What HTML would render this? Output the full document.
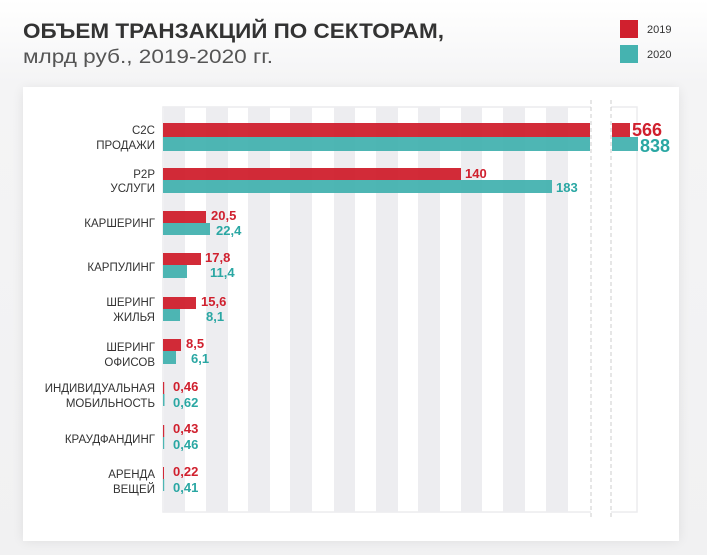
<!DOCTYPE html>
<html><head><meta charset="utf-8"><style>
body{margin:0;width:707px;height:555px;background:#f3f3f4;overflow:hidden;font-family:"Liberation Sans",sans-serif}
svg{position:absolute;left:0;top:0}
</style></head><body>
<svg width="707" height="555" viewBox="0 0 707 555">
<defs><linearGradient id="bg" x1="0" y1="0" x2="0" y2="1"><stop offset="0" stop-color="#ffffff"/><stop offset="0.15" stop-color="#f4f4f5"/><stop offset="1" stop-color="#f1f1f2"/></linearGradient>
<filter id="sh" x="-10%" y="-10%" width="120%" height="120%"><feGaussianBlur stdDeviation="6"/></filter></defs>
<rect width="707" height="555" fill="url(#bg)"/>
<rect x="23" y="89" width="656" height="452" fill="#000" opacity="0.08" filter="url(#sh)"/>
<rect x="23" y="87" width="656" height="454" fill="#fff"/>
<g font-family="Liberation Sans, sans-serif">
<text x="23" y="38" font-size="21" font-weight="bold" fill="#333" textLength="421" lengthAdjust="spacingAndGlyphs">ОБЪЕМ ТРАНЗАКЦИЙ ПО СЕКТОРАМ,</text>
<text x="23" y="63" font-size="19" fill="#555" textLength="250" lengthAdjust="spacingAndGlyphs">млрд руб., 2019-2020 гг.</text>
<rect x="620" y="20" width="18" height="18" fill="#d0202e"/>
<rect x="620" y="45" width="18" height="18" fill="#45b3b0"/>
<text x="647" y="33" font-size="11" fill="#333">2019</text>
<text x="647" y="58" font-size="11" fill="#333">2020</text>
</g>
<rect x="163" y="107" width="474" height="405" fill="#fff" stroke="#ececee" stroke-width="1.5"/>
<g fill="#ededf0">
<rect x="164" y="107" width="21" height="405"/><rect x="206" y="107" width="22" height="405"/><rect x="248" y="107" width="22" height="405"/><rect x="290" y="107" width="22" height="405"/><rect x="334" y="107" width="21" height="405"/><rect x="376" y="107" width="22" height="405"/><rect x="418" y="107" width="22" height="405"/><rect x="461" y="107" width="21" height="405"/><rect x="503" y="107" width="22" height="405"/><rect x="546" y="107" width="22" height="405"/>
</g>
<rect x="591" y="100" width="20" height="420" fill="#fff"/>
<line x1="591" y1="100" x2="591" y2="520" stroke="#ccc" stroke-dasharray="4,3"/>
<line x1="611" y1="100" x2="611" y2="520" stroke="#ccc" stroke-dasharray="4,3"/>
<g fill="#d0202e" opacity="0.95">
<rect x="163" y="123" width="427" height="14"/><rect x="612" y="123" width="18" height="14"/>
<rect x="163" y="168" width="298" height="12"/>
<rect x="163" y="211" width="43" height="12"/>
<rect x="163" y="253" width="38" height="12"/>
<rect x="163" y="297" width="33" height="12"/>
<rect x="163" y="339" width="18" height="12"/>
<rect x="163" y="382" width="1.2" height="12"/>
<rect x="163" y="425" width="1.2" height="12"/>
<rect x="163" y="467" width="1" height="12"/>
</g>
<g fill="#45b3b0" opacity="0.95">
<rect x="163" y="137" width="427" height="14"/><rect x="612" y="137" width="26" height="14"/>
<rect x="163" y="180" width="389" height="13"/>
<rect x="163" y="223" width="47" height="12"/>
<rect x="163" y="265" width="24" height="13"/>
<rect x="163" y="309" width="17" height="12"/>
<rect x="163" y="351" width="13" height="13"/>
<rect x="163" y="394" width="1.5" height="12"/>
<rect x="163" y="437" width="1.2" height="12"/>
<rect x="163" y="479" width="1.2" height="12"/>
</g>
<g font-size="11.5" fill="#333" text-anchor="end">
<text x="155" y="134">C2C</text><text x="155" y="149">ПРОДАЖИ</text>
<text x="155" y="178">P2P</text><text x="155" y="192">УСЛУГИ</text>
<text x="155" y="227">КАРШЕРИНГ</text>
<text x="155" y="271">КАРПУЛИНГ</text>
<text x="155" y="306">ШЕРИНГ</text><text x="155" y="321">ЖИЛЬЯ</text>
<text x="155" y="351">ШЕРИНГ</text><text x="155" y="366">ОФИСОВ</text>
<text x="155" y="392">ИНДИВИДУАЛЬНАЯ</text><text x="155" y="407">МОБИЛЬНОСТЬ</text>
<text x="155" y="443">КРАУДФАНДИНГ</text>
<text x="155" y="478">АРЕНДА</text><text x="155" y="493">ВЕЩЕЙ</text>
</g>
<g font-size="13" font-weight="bold">
<text x="632" y="136" font-size="18" fill="#d0202e">566</text>
<text x="640" y="152" font-size="18" fill="#2aa7a3">838</text>
<text x="465" y="178" fill="#d0202e">140</text>
<text x="556" y="192" fill="#2aa7a3">183</text>
<text x="211" y="220" fill="#d0202e">20,5</text>
<text x="216" y="235" fill="#2aa7a3">22,4</text>
<text x="205" y="262" fill="#d0202e">17,8</text>
<text x="210" y="277" fill="#2aa7a3">11,4</text>
<text x="201" y="306" fill="#d0202e">15,6</text>
<text x="206" y="321" fill="#2aa7a3">8,1</text>
<text x="186" y="348" fill="#d0202e">8,5</text>
<text x="191" y="363" fill="#2aa7a3">6,1</text>
<text x="173" y="391" fill="#d0202e">0,46</text>
<text x="173" y="407" fill="#2aa7a3">0,62</text>
<text x="173" y="433" fill="#d0202e">0,43</text>
<text x="173" y="449" fill="#2aa7a3">0,46</text>
<text x="173" y="476" fill="#d0202e">0,22</text>
<text x="173" y="492" fill="#2aa7a3">0,41</text>
</g>
</svg>
</body></html>
